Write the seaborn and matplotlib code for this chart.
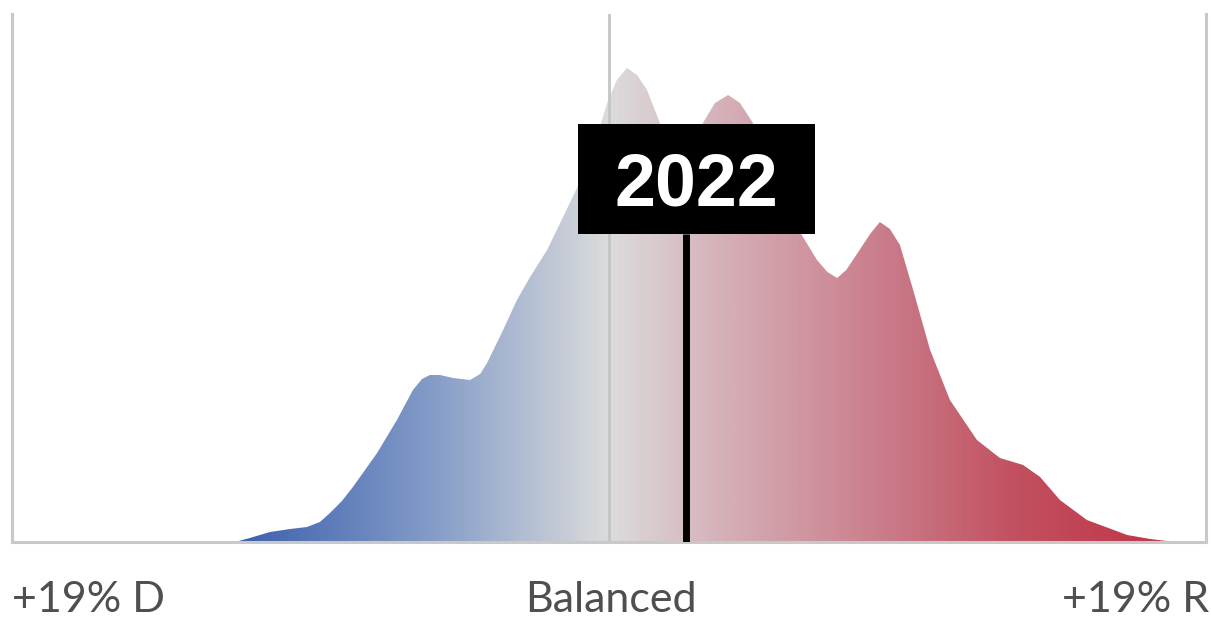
import numpy as np
import matplotlib
matplotlib.use("Agg")
import matplotlib.pyplot as plt
from matplotlib.colors import LinearSegmentedColormap, Normalize
from matplotlib.patches import Rectangle
import seaborn as sns

# Partisan lean (points, negative = D, positive = R) and relative share of districts
margin = [-11.90, -11.43, -10.79, -10.15, -9.61, -9.20, -8.88, -8.50, -8.15, -7.38,
          -6.75, -6.24, -5.95, -5.70, -5.38, -4.96, -4.42, -4.10, -3.88, -3.37,
          -2.93, -2.51, -1.97, -1.46, -0.70, -0.29, -0.06, 0.25, 0.57, 0.89,
          1.21, 1.62, 2.01, 2.42, 2.74, 2.99, 3.37, 3.79, 4.17, 4.58,
          5.28, 5.98, 6.62, 6.95, 7.26, 7.55, 7.89, 8.31, 8.62, 8.94,
          9.26, 9.68, 10.22, 10.85, 11.71, 12.44, 13.18, 13.72, 14.35, 15.21,
          16.49, 17.22, 18.01]
share = [0.00, 0.04, 0.10, 0.13, 0.15, 0.20, 0.29, 0.41, 0.55, 0.89,
         1.22, 1.52, 1.63, 1.67, 1.67, 1.64, 1.62, 1.68, 1.79, 2.12,
         2.42, 2.65, 2.92, 3.25, 3.75, 4.15, 4.39, 4.62, 4.74, 4.67,
         4.52, 4.19, 3.92, 3.80, 3.90, 4.19, 4.39, 4.47, 4.39, 4.19,
         3.72, 3.15, 2.82, 2.70, 2.64, 2.72, 2.88, 3.08, 3.20, 3.13,
         2.97, 2.52, 1.92, 1.42, 1.02, 0.84, 0.77, 0.65, 0.42, 0.22,
         0.07, 0.03, 0.00]

year_label = "2022"
year_margin = 2.45
axis_labels = ["+19% D", "Balanced", "+19% R"]
x_range = (-19, 19)

sns.set_theme(style="white")
plt.rcParams["font.family"] = ["Lato", "DejaVu Sans"]

W, H = 1211, 621
fig = plt.figure(figsize=(W / 100, H / 100), dpi=100)
ax = fig.add_axes([12 / W, (H - 542) / H, (1206 - 12) / W, (542 - 14) / H])

ymax = 5.28
ax.set_xlim(*x_range)
ax.set_ylim(0, ymax)

# Outline of the distribution (kept invisible; the gradient fill carries it)
sns.lineplot(x=margin, y=share, ax=ax, linewidth=0, color="white")

# Blue -> grey -> red gradient clipped to the distribution
g_lo, g_hi = -12, 18
stops = [(-12, "#3a5eac"), (-6, "#7f98c6"), (0, "#dcdcdc"), (4, "#d4acb4"),
         (9, "#c97a88"), (13, "#c2505f"), (18, "#bf3347")]
cmap = LinearSegmentedColormap.from_list(
    "lean", [((v - g_lo) / (g_hi - g_lo), c) for v, c in stops])
norm = Normalize(vmin=g_lo, vmax=g_hi, clip=True)
xs = np.linspace(x_range[0], x_range[1], 1000)
grad = cmap(norm(xs))[np.newaxis, :, :]
img = ax.imshow(grad, extent=[x_range[0], x_range[1], 0, ymax], aspect="auto",
                origin="lower", zorder=1, interpolation="bilinear")
poly = ax.fill_between(margin, share, 0, color="none", linewidth=0)
clip = poly.get_paths()[0]
img.set_clip_path(clip, transform=ax.transData)

# Axis frame: left/right/bottom grey rules and the balanced line
for side in ["left", "right", "bottom"]:
    ax.spines[side].set_visible(True)
    ax.spines[side].set_color("#c8c8c8")
    ax.spines[side].set_linewidth(2.2)
ax.spines["top"].set_visible(False)
ax.axvline(0, color="#c4c4c4", linewidth=2.0, zorder=2)
ax.set_xticks([])
ax.set_yticks([])
ax.set_xlabel("")
ax.set_ylabel("")

# Marker for the year
box_bottom, box_top = 3.08, 4.18
ax.plot([year_margin, year_margin], [0, box_bottom], color="black",
        linewidth=5, solid_capstyle="butt", zorder=4)
ax.add_patch(Rectangle((-0.99, box_bottom), 6.56 + 0.99, box_top - box_bottom,
                       facecolor="black", edgecolor="none", zorder=5))
ax.text(2.77, (box_bottom + box_top) / 2, year_label, color="white",
        fontsize=53, fontweight="bold", family=["Liberation Sans", "DejaVu Sans"],
        ha="center", va="center_baseline", zorder=6)

# Bottom labels
label_y = 1 - 600 / H
for xpx, ha, txt in [(12, "left", axis_labels[0]), (611, "center", axis_labels[1]),
                     (1209, "right", axis_labels[2])]:
    fig.text(xpx / W, label_y, txt, ha=ha, va="center", fontsize=31,
             color="#4f4f4f")

fig.savefig("out.png", dpi=100)
